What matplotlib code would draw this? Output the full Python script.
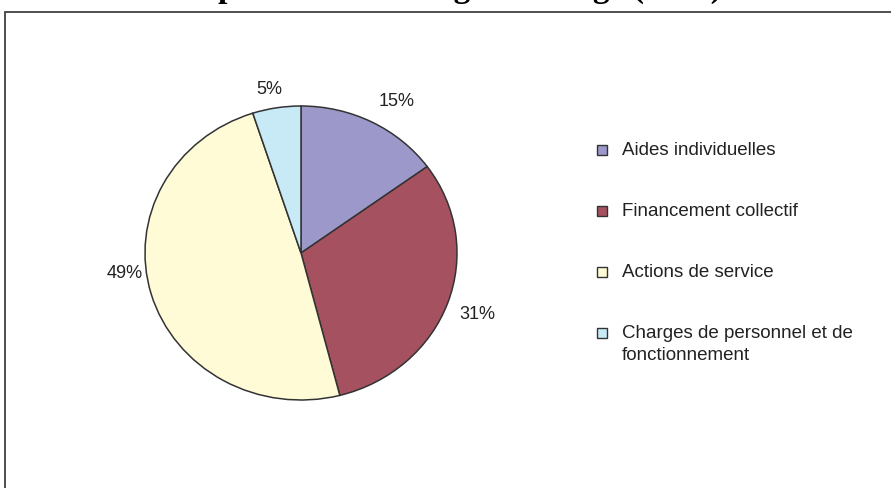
import matplotlib.pyplot as plt
from matplotlib.patches import Rectangle

#-----Data-------------------------------------------------------------------
categories = ['Aides individuelles', 'Financement collectif',
              'Actions de service', 'Charges de personnel et de\nfonctionnement']
shares = [15, 31, 49, 5]
colors = ['#9C98CA', '#A5515F', '#FFFBD6', '#C8EAF6']
title = "Répartition du budget du Siège (2008)"

W, H = 891, 488
fig = plt.figure(figsize=(W / 100, H / 100), dpi=100)
plt.rcParams['font.family'] = ['Liberation Sans', 'DejaVu Sans']

#-----Chart frame (runs off the right and bottom edges)----------------------
fig.patches.append(Rectangle((5 / W, -0.1), 1.1, 1 - 12 / H + 0.1,
                             transform=fig.transFigure, fill=False,
                             edgecolor='#404040', lw=1.3))

#-----Title, cut off at the top like the original------------------------------
fig.text(0.505, 1 + 3 / H, title, ha='center', va='baseline',
         family='Liberation Serif', weight='bold', fontsize=24, color='black')

#-----Pie (slightly elliptical, like the original)---------------------------
ax = fig.add_axes([145 / W, 1 - 400 / H, 312 / W, 294 / H])
wedges, texts = ax.pie(shares, colors=colors, startangle=90, counterclock=False,
                       labels=[f'{v}%' for v in shares], labeldistance=1.18,
                       wedgeprops=dict(edgecolor='#333333', linewidth=1.1),
                       textprops=dict(fontsize=13, color='#222222'))
# small nudges so the labels sit where the spreadsheet put them
nudge = [(0.08, -0.02), (0.02, -0.02), (0.0, 0.19), (-0.02, -0.05)]
for t, (dx, dy) in zip(texts, nudge):
    x, y = t.get_position()
    t.set_position((x + dx, y + dy))
    t.set_ha('center')
    t.set_va('center')
ax.set_aspect('auto')
ax.set_xlim(-1, 1)
ax.set_ylim(-1, 1)
ax.axis('off')

#-----Legend--------------------------------------------------------------------
for i, (lab, col) in enumerate(zip(categories, colors)):
    yc = 1 - (150 + 61 * i) / H
    fig.patches.append(Rectangle((597 / W, yc - 5 / H), 10 / W, 10 / H,
                                 transform=fig.transFigure, facecolor=col,
                                 edgecolor='#333333', lw=1))
    fig.text(622 / W, yc + 8 / H, lab, ha='left', va='top', fontsize=13.5,
             color='#222222', linespacing=1.4)

fig.savefig('out.png', dpi=100)
